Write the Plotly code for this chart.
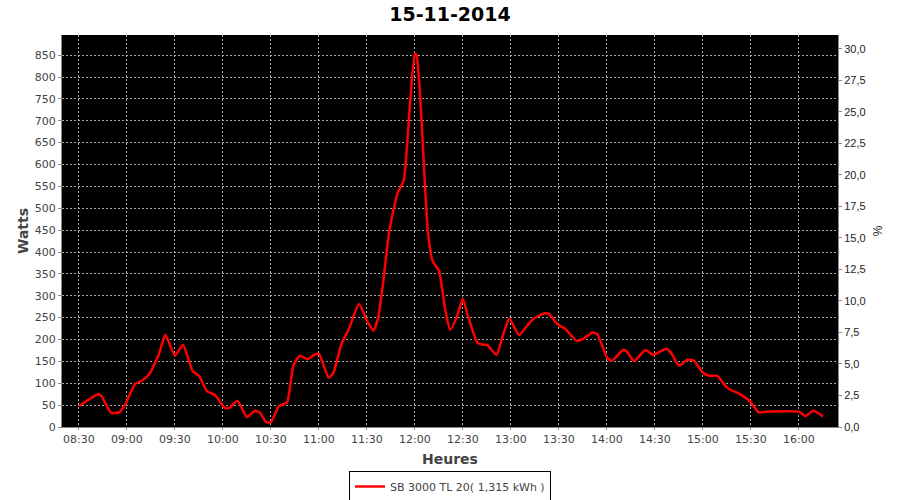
import plotly.graph_objects as go

day = "2014-11-15 "
times = ["08:30", "08:42", "08:44", "08:50", "08:55", "08:59", "09:05", "09:09", "09:14", "09:20",
         "09:24", "09:30", "09:35", "09:41", "09:45", "09:50", "09:55", "10:01", "10:04", "10:09",
         "10:15", "10:20", "10:23", "10:27", "10:30", "10:35", "10:40", "10:44", "10:48", "10:53",
         "10:57", "11:00", "11:06", "11:09", "11:14", "11:19", "11:25", "11:30", "11:34", "11:37",
         "11:40", "11:44", "11:49", "11:53", "11:55", "11:58", "12:00", "12:01", "12:03", "12:05",
         "12:08", "12:11", "12:15", "12:19", "12:22", "12:26", "12:30", "12:33", "12:39", "12:43",
         "12:45", "12:51", "12:55", "12:59", "13:05", "13:10", "13:14", "13:21", "13:24", "13:29",
         "13:34", "13:41", "13:45", "13:51", "13:54", "14:00", "14:03", "14:10", "14:12", "14:17",
         "14:24", "14:29", "14:37", "14:40", "14:45", "14:50", "14:54", "15:00", "15:04", "15:09",
         "15:15", "15:23", "15:29", "15:35", "15:39", "16:00", "16:04", "16:09", "16:15"]
watts = [48, 75, 71, 33, 33, 52, 98, 105, 121, 167,
         211, 163, 188, 128, 117, 82, 73, 44, 43, 60,
         23, 37, 33, 11, 11, 48, 56, 140, 163, 155,
         165, 167, 113, 124, 189, 227, 281, 243, 220, 250,
         327, 449, 533, 564, 640, 793, 854, 850, 770, 640,
         449, 380, 357, 266, 222, 250, 293, 255, 193, 188,
         188, 165, 210, 248, 210, 231, 247, 260, 258, 235,
         224, 197, 201, 216, 212, 159, 151, 176, 174, 151,
         176, 165, 179, 170, 140, 153, 153, 124, 117, 117,
         90, 75, 60, 33, 35, 35, 25, 37, 24]

series_name = "SB 3000 TL 20( 1,315 kWh )"
title_text = "15-11-2014"
x_range = ["08:19:24", "16:24:24"]
left_range = [0, 896]
right_range = [0, 31.1]

x = [day + t for t in times]

font = "DejaVu Sans"
grey = "#444444"

fig = go.Figure()
fig.add_trace(go.Scatter(
    x=x, y=watts, mode="lines", name=series_name,
    line=dict(color="#ff0000", width=2.5, shape="spline", smoothing=0.5),
))
# invisible trace to anchor the right-hand percentage axis
fig.add_trace(go.Scatter(
    x=[x[0]], y=[0], yaxis="y2", mode="lines", showlegend=False,
    hoverinfo="skip", line=dict(width=0, color="rgba(0,0,0,0)"),
))

grid = dict(showgrid=True, gridcolor="#a8a8a8", griddash="2px,2px", gridwidth=1)

fig.update_layout(
    width=900, height=500,
    paper_bgcolor="white", plot_bgcolor="black",
    separators=",.",
    font=dict(family=font, size=11, color=grey),
    margin=dict(l=62, r=62, t=35, b=73),
    title=dict(text="<b>" + title_text + "</b>", x=0.5, xanchor="center", xref="container",
               y=1 - 14 / 500, yanchor="middle", yref="container",
               font=dict(family=font, size=19, color="black")),
    xaxis=dict(type="date", range=[day + x_range[0], day + x_range[1]],
               tick0=day + "08:30", dtick=1800000, tickformat="%H:%M",
               showline=True, linecolor="#888888", linewidth=1,
               ticks="outside", ticklen=2, tickcolor="#888888",
               tickfont=dict(size=11, color=grey), zeroline=False, automargin=False,
               title=dict(text="<b>Heures</b>", standoff=8,
                          font=dict(size=14, color=grey)),
               **grid),
    yaxis=dict(range=left_range, tick0=0, dtick=50,
               showline=True, linecolor="#888888", linewidth=1,
               ticks="outside", ticklen=3, tickcolor="#888888",
               tickfont=dict(size=11, color=grey), zeroline=False, automargin=False,
               title=dict(text="<b>Watts</b>", standoff=2,
                          font=dict(size=14, color=grey)),
               **grid),
    yaxis2=dict(range=right_range, tick0=0, dtick=2.5, tickformat=".1f",
                overlaying="y", side="right", showgrid=False,
                showline=True, linecolor="#888888", linewidth=1,
                ticks="outside", ticklen=3, tickcolor="#888888",
                tickfont=dict(family="Liberation Sans", size=11, color="#222222"),
                zeroline=False, automargin=False,
                title=dict(text="%", standoff=8,
                           font=dict(family="Liberation Sans", size=12, color="#222222"))),
    legend=dict(orientation="h", x=0.5, xanchor="center", xref="container",
                y=1 - 486.5 / 500, yanchor="middle", yref="container", bgcolor="white",
                bordercolor="black", borderwidth=1,
                font=dict(size=11, color=grey), itemwidth=30),
    showlegend=True,
)

fig.write_html("out.html", config={"displayModeBar": False},
               post_script="document.body.style.margin='0';document.body.style.padding='0';")
